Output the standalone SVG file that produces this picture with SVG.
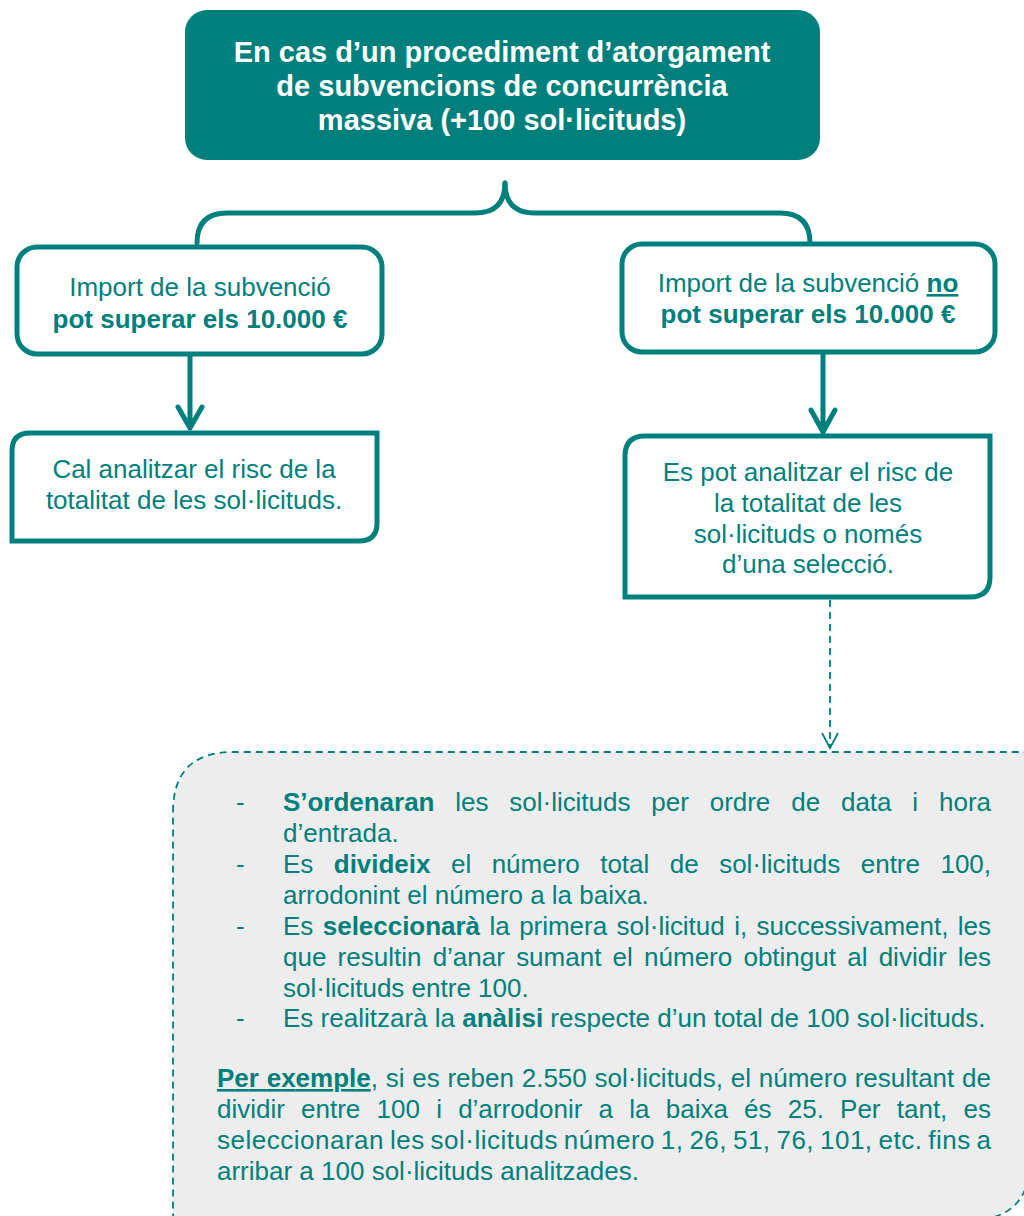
<svg xmlns="http://www.w3.org/2000/svg" width="1024" height="1216" viewBox="0 0 1024 1216">
<style>
.t{font-family:"Liberation Sans",Arial,sans-serif;fill:#00807C}
.b{font-weight:bold}
.box{fill:#fff;stroke:#00807C;stroke-width:5}
.con{fill:none;stroke:#00807C;stroke-width:5;stroke-linecap:round;stroke-linejoin:round}
.dash{fill:none;stroke:#00807C;stroke-width:1.8;stroke-dasharray:7 5}
.m{text-anchor:middle;font-size:26px}
</style>
<rect width="1024" height="1216" fill="#fff"/>
<g id="connectors">
  <path class="con" d="M505,183 Q505,213 475,213 H227 Q197,213 197,243"/>
  <path class="con" d="M505,183 Q505,213 535,213 H780 Q810,213 810,243"/>
  <path class="con" d="M190,356 V428 M178,407 L190,428 L202,407"/>
  <path class="con" d="M823,354 V432 M811,410 L823,432 L835,410"/>
  <path class="dash" d="M830,600 V747"/>
  <path fill="none" stroke="#00807C" stroke-width="1.8" d="M822,733 L830,748 L838,733"/>
</g>
<g id="top">
  <rect x="185" y="10" width="635" height="150" rx="22" fill="#00807C"/>
  <g font-family="'Liberation Sans',Arial,sans-serif" font-weight="bold" font-size="29" fill="#fff" text-anchor="middle">
    <text x="502" y="62">En cas d’un procediment d’atorgament</text>
    <text x="502" y="96">de subvencions de concurrència</text>
    <text x="502" y="130">massiva (+100 sol·licituds)</text>
  </g>
</g>
<g id="left1">
  <rect class="box" x="17" y="247" width="365" height="107" rx="20"/>
  <text class="t m" x="200" y="296">Import de la subvenció</text>
  <text class="t m b" x="200" y="328">pot superar els 10.000 €</text>
</g>
<g id="left2">
  <path class="box" d="M12,451 Q12,433 30,433 H377 V523 Q377,541 359,541 H12 Z"/>
  <text class="t m" x="194" y="478">Cal analitzar el risc de la</text>
  <text class="t m" x="194" y="509">totalitat de les sol·licituds.</text>
</g>
<g id="right1">
  <rect class="box" x="622" y="244" width="373" height="108" rx="20"/>
  <text class="t m" x="808" y="292">Import de la subvenció <tspan class="b" text-decoration="underline">no</tspan></text>
  <text class="t m b" x="808" y="323">pot superar els 10.000 €</text>
</g>
<g id="right2">
  <path class="box" d="M625,456 Q625,436 645,436 H990 V577 Q990,597 970,597 H625 Z"/>
  <text class="t m" x="808" y="481">Es pot analitzar el risc de</text>
  <text class="t m" x="808" y="512">la totalitat de les</text>
  <text class="t m" x="808" y="543">sol·licituds o només</text>
  <text class="t m" x="808" y="573">d’una selecció.</text>
</g>
<g id="procedure">
  <path d="M173,812 Q173,752 233,752 H1030 V1160 Q1030,1220 970,1220 H173 Z" fill="#EDEDED" stroke="#00807C" stroke-width="1.8" stroke-dasharray="7 5"/>
  <g font-size="26">
    <text class="t" x="236" y="811">-</text>
    <text class="t" x="283" y="811" word-spacing="13.7" textLength="708" lengthAdjust="spacing"><tspan class="b">S’ordenaran</tspan> les sol·licituds per ordre de data i hora</text>
    <text class="t" x="283" y="842">d’entrada.</text>
    <text class="t" x="236" y="873">-</text>
    <text class="t" x="283" y="873" word-spacing="13.3" textLength="708" lengthAdjust="spacing">Es <tspan class="b">divideix</tspan> el número total de sol·licituds entre 100,</text>
    <text class="t" x="283" y="904">arrodonint el número a la baixa.</text>
    <text class="t" x="236" y="935">-</text>
    <text class="t" x="283" y="935" word-spacing="2.3" textLength="708" lengthAdjust="spacing">Es <tspan class="b">seleccionarà</tspan> la primera sol·licitud i, successivament, les</text>
    <text class="t" x="283" y="966" word-spacing="4" textLength="708" lengthAdjust="spacing">que resultin d’anar sumant el número obtingut al dividir les</text>
    <text class="t" x="283" y="997">sol·licituds entre 100.</text>
    <text class="t" x="236" y="1027">-</text>
    <text class="t" x="283" y="1027">Es realitzarà la <tspan class="b">anàlisi</tspan> respecte d’un total de 100 sol·licituds.</text>
    <text class="t" x="217" y="1087" word-spacing="0.6" textLength="774" lengthAdjust="spacing"><tspan class="b" text-decoration="underline">Per exemple</tspan>, si es reben 2.550 sol·licituds, el número resultant de</text>
    <text class="t" x="217" y="1118" word-spacing="9" textLength="774" lengthAdjust="spacing">dividir entre 100 i d’arrodonir a la baixa és 25. Per tant, es</text>
    <text class="t" x="217" y="1149" word-spacing="-1.9" textLength="774" lengthAdjust="spacing">seleccionaran les sol·licituds número 1, 26, 51, 76, 101, etc. fins a</text>
    <text class="t" x="217" y="1180">arribar a 100 sol·licituds analitzades.</text>
  </g>
</g>
</svg>
